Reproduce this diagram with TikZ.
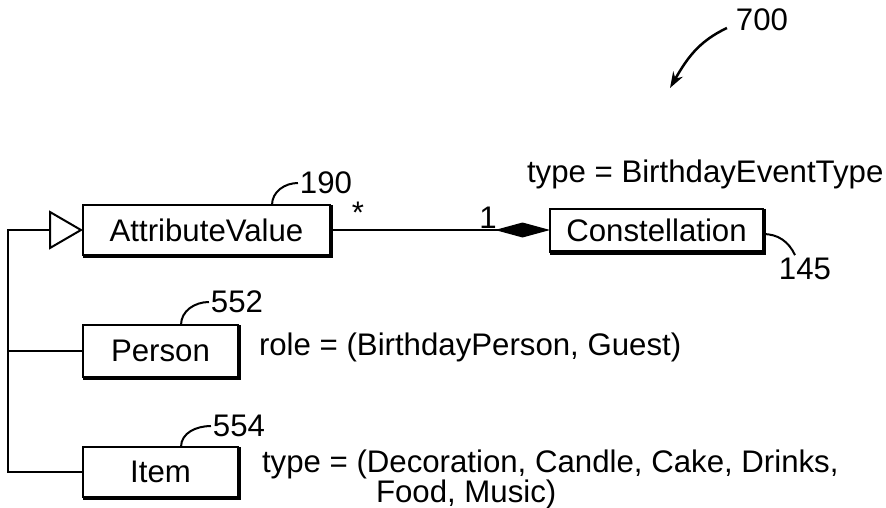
\documentclass[tikz,border=0pt]{standalone}
\usepackage{fontspec}
\setmainfont{Liberation Sans}
\usetikzlibrary{arrows.meta}

\begin{document}
\begin{tikzpicture}[x=1pt,y=1pt]
\tikzstyle{every node}+=[inner sep=0pt, outer sep=0pt, font=\fontsize{31.2}{25}\selectfont]
\tikzstyle{umlbox}=[draw, line width=2pt, minimum height=50pt]
\tikzstyle{shadow edge}=[line width=4.5pt]
\tikzstyle{leader}=[line width=2pt]
\useasboundingbox (0,0) rectangle (886,-508);
% classes
\node [umlbox, minimum width=247pt] (attr) at (206.5,-230) {AttributeValue};
\node [umlbox, minimum width=213pt, minimum height=43pt] (con) at (656.5,-230) {Constellation};
\node [umlbox, minimum width=155pt, minimum height=52pt] (person) at (160.5,-351) {Person};
\node [umlbox, minimum width=155pt] (item) at (160.5,-472) {Item};
\foreach \b in {attr,con,person,item}
  \draw [shadow edge] ([shift={(1pt,0)}]\b.north east) -- ([shift={(1pt,-1pt)}]\b.south east) -- ([shift={(0,-1pt)}]\b.south west);
% associations
\draw [line width=2pt, -{Diamond[length=55pt,width=15pt]}] (attr.east) -- (con.west);
\draw [line width=2pt, -{Triangle[open,length=34pt,width=39pt]}] (item.west) -- ++(-75,0) |- (attr.west);
\draw [line width=2pt] (person.west) -- ++(-75,0);
\node (mstar) at (358,-213) {*};
\node (mone) at (488,-218) {1};
% attribute texts
\node [anchor=west] (evt) at (527,-174) {type = BirthdayEventType};
\node [anchor=west] (roles) at (259,-347) {role = (BirthdayPerson, Guest)};
\node [anchor=west, align=left] (types) at (262,-479) {type = (Decoration, Candle, Cake, Drinks,\\\hspace*{114pt}Food, Music)};
% reference numbers
\node (n190) at (326,-183) {190};
\node (n552) at (237,-302) {552};
\node (n554) at (239,-426) {554};
\node (n145) at (805,-269) {145};
\node (n700) at (762,-20) {700};
\coordinate (fig) at (670,-88);
\draw [leader] ([xshift=65.5pt]attr.north) to[out=90,in=180] ([xshift=-2pt]n190.west);
\draw [leader] ([xshift=20.5pt]person.north) to[out=90,in=180] ([xshift=-2pt]n552.west);
\draw [leader] ([xshift=20.5pt]item.north) to[out=90,in=180] ([xshift=-2pt]n554.west);
\draw [leader] ([yshift=-4pt]con.east) to[out=0,in=115] ([shift={(-10pt,3pt)}]n145.north);
\draw [line width=2.5pt, -{Stealth[length=16pt,width=11pt]}] ([shift={(-9pt,-8pt)}]n700.west) to[out=205,in=60] (fig);
\end{tikzpicture}
\end{document}
